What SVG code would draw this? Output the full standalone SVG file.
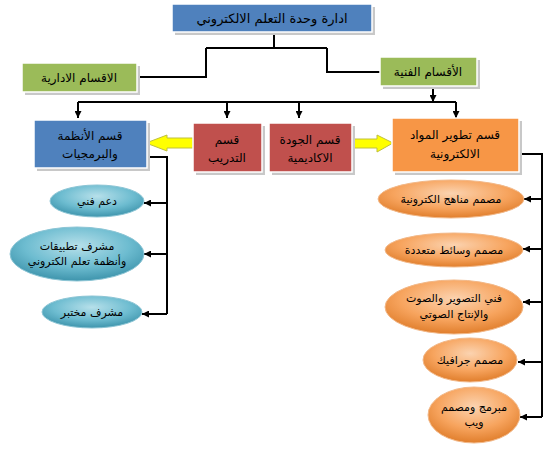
<svg xmlns="http://www.w3.org/2000/svg" width="550" height="449" viewBox="0 0 550 449">
<defs>
<marker id="ah" viewBox="0 0 10 10" refX="10" refY="5" markerWidth="7" markerHeight="7" markerUnits="userSpaceOnUse" orient="auto"><path d="M0,0 L10,5 L0,10 z" fill="#000"/></marker>
<radialGradient id="teal" cx="50%" cy="35%" r="65%"><stop offset="0" stop-color="#B7E0EA"/><stop offset="0.6" stop-color="#6DBCD0"/><stop offset="1" stop-color="#3E94AC"/></radialGradient>
<radialGradient id="orng" cx="50%" cy="35%" r="65%"><stop offset="0" stop-color="#FBD3B0"/><stop offset="0.6" stop-color="#F7A45E"/><stop offset="1" stop-color="#E07E2C"/></radialGradient>
</defs>
<style>
text{font-family:"DejaVu Sans","Noto Sans",sans-serif;font-size:11px;fill:#000;text-anchor:middle}
.b{font-size:12px}
.t{font-size:13px}
.sh{fill:#c8c8c8}
.bx{stroke:#fff;stroke-width:1.5}
.ln{fill:none;stroke:#000;stroke-width:2}
.ar{fill:none;stroke:#000;stroke-width:2;marker-end:url(#ah)}
.yel{fill:#FFFF00;stroke:#BFBF3F;stroke-width:1}
.tl{fill:url(#teal);stroke:#8CC5D5;stroke-width:1}
.or{fill:url(#orng);stroke:#F2B888;stroke-width:1}
</style>
<rect width="550" height="449" fill="#fff"/>
<g id="connectors">
<path class="ln" d="M274,32 V48 M206,48 H327 M206,48 V77 H137 M327,48 V72 H380"/>
<path class="ar" d="M433,87 V102"/>
<path class="ln" d="M78,102 H456"/>
<path class="ar" d="M78,102 V118"/>
<path class="ar" d="M227,102 V118"/>
<path class="ar" d="M299,102 V118"/>
<path class="ar" d="M456,102 V118"/>
<path class="ln" d="M147,157 H167 V314"/>
<path class="ar" d="M167,203 H144"/>
<path class="ar" d="M167,254 H144"/>
<path class="ar" d="M167,314 H142"/>
<path class="ln" d="M519,154 H542 V417"/>
<path class="ar" d="M542,199 H524"/>
<path class="ar" d="M542,249 H523"/>
<path class="ar" d="M542,302 H523"/>
<path class="ar" d="M542,362 H518"/>
<path class="ar" d="M542,417 H520"/>
<polygon class="yel" points="193,138 167,138 167,135 146,143 167,151 167,148 193,148"/>
<polygon class="yel" points="353,139 377,139 377,135 393,143 377,152 377,148 353,148"/>
</g>
<g id="top">
<rect class="sh" x="175" y="7" width="200" height="28"/>
<rect class="bx" x="172" y="4" width="200" height="28" fill="#4F81BD"/>
<text class="t" x="272" y="23">ادارة وحدة التعلم الالكتروني</text>
</g>
<g id="admin">
<rect class="sh" x="25" y="66" width="115" height="29"/>
<rect class="bx" x="22" y="63" width="115" height="29" fill="#9BBB59"/>
<text class="b" x="79" y="82">الاقسام الادارية</text>
</g>
<g id="tech">
<rect class="sh" x="383" y="60" width="97" height="29"/>
<rect class="bx" x="380" y="57" width="97" height="29" fill="#9BBB59"/>
<text class="b" x="428" y="76">الأقسام الفنية</text>
</g>
<g id="systems">
<rect class="sh" x="37" y="123" width="113" height="48"/>
<rect class="bx" x="34" y="120" width="113" height="48" fill="#4F81BD"/>
<text class="b" x="90" y="140">قسم الأنظمة</text>
<text class="b" x="90" y="158">والبرمجيات</text>
</g>
<g id="training">
<rect class="sh" x="196" y="126" width="69" height="49"/>
<rect class="bx" x="193" y="123" width="69" height="49" fill="#C0504D"/>
<text class="b" x="227" y="144">قسم</text>
<text class="b" x="227" y="162">التدريب</text>
</g>
<g id="quality">
<rect class="sh" x="272" y="126" width="83" height="49"/>
<rect class="bx" x="269" y="123" width="83" height="49" fill="#C0504D"/>
<text class="b" x="310" y="144">قسم الجودة</text>
<text class="b" x="310" y="162">الاكاديمية</text>
</g>
<g id="materials">
<rect class="sh" x="395" y="121" width="127" height="54"/>
<rect class="bx" x="392" y="118" width="127" height="54" fill="#F79646"/>
<text class="b" x="455" y="139">قسم تطوير المواد</text>
<text class="b" x="455" y="158">الالكترونية</text>
</g>
<g id="support">
<ellipse class="tl" cx="97" cy="201" rx="47" ry="16"/>
<text x="97" y="205">دعم فني</text>
</g>
<g id="apps">
<ellipse class="tl" cx="77" cy="254" rx="67" ry="27"/>
<text x="77" y="250">مشرف تطبيقات</text>
<text x="77" y="265">وأنظمة تعلم الكتروني</text>
</g>
<g id="lab">
<ellipse class="tl" cx="92" cy="312" rx="50" ry="16"/>
<text x="92" y="316">مشرف مختبر</text>
</g>
<g id="curr">
<ellipse class="or" cx="451" cy="199" rx="73" ry="19"/>
<text x="451" y="203">مصمم مناهج الكترونية</text>
</g>
<g id="media">
<ellipse class="or" cx="454" cy="250" rx="69" ry="17"/>
<text x="454" y="254">مصمم وسائط متعددة</text>
</g>
<g id="photo">
<ellipse class="or" cx="454" cy="307" rx="69" ry="27"/>
<text x="454" y="302">فني التصوير والصوت</text>
<text x="454" y="318">والإنتاج الصوتي</text>
</g>
<g id="graphic">
<ellipse class="or" cx="470" cy="360" rx="47" ry="22"/>
<text x="470" y="364">مصمم جرافيك</text>
</g>
<g id="web">
<ellipse class="or" cx="474" cy="415" rx="46" ry="28"/>
<text x="474" y="411">مبرمج ومصمم</text>
<text x="474" y="426">ويب</text>
</g>
</svg>
